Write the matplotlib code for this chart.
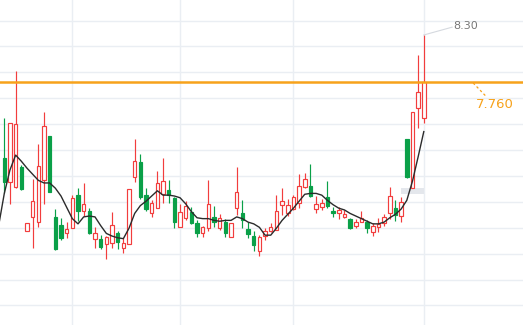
import numpy as np
import matplotlib.pyplot as plt
from matplotlib.patches import Rectangle

# Velas diarias (precios)
opens = [6.89, 6.61, 6.55, 6.78, 6.05, 6.21, 6.15, 6.63, 7.14, 6.21,
         6.12, 6.02, 6.08, 6.46, 6.28, 6.28, 5.96, 5.96, 5.90, 5.91,
         6.02, 5.85, 5.90, 6.67, 6.84, 6.46, 6.25, 6.31, 6.47, 6.52,
         6.43, 6.09, 6.20, 6.27, 6.14, 6.02, 6.08, 6.21, 6.08, 6.15,
         5.98, 6.31, 6.25, 6.07, 5.99, 5.82, 5.99, 6.05, 6.06, 6.35,
         6.25, 6.30, 6.37, 6.55, 6.56, 6.30, 6.32, 6.44, 6.28, 6.25,
         6.21, 6.19, 6.11, 6.15, 6.15, 6.04, 6.09, 6.14, 6.25, 6.31,
         6.22, 7.11, 6.54, 7.46, 7.35]
closes = [6.61, 7.29, 7.28, 6.53, 6.14, 6.39, 6.79, 7.25, 6.50, 5.84,
          5.97, 6.07, 6.43, 6.28, 6.36, 6.02, 6.02, 5.86, 5.98, 6.12,
          5.92, 5.91, 6.53, 6.85, 6.44, 6.30, 6.37, 6.60, 6.62, 6.46,
          6.15, 6.27, 6.34, 6.14, 6.02, 6.09, 6.36, 6.15, 6.20, 6.02,
          6.14, 6.50, 6.18, 6.01, 5.89, 5.98, 6.05, 6.09, 6.28, 6.39,
          6.35, 6.44, 6.56, 6.64, 6.45, 6.36, 6.37, 6.34, 6.25, 6.29,
          6.24, 6.08, 6.15, 6.20, 6.08, 6.11, 6.13, 6.21, 6.45, 6.23,
          6.38, 6.67, 7.42, 7.65, 7.76]
highs = [7.35, 7.29, 7.89, 6.81, 6.14, 6.65, 7.05, 7.42, 7.14, 6.30,
         6.20, 6.15, 6.46, 6.54, 6.60, 6.31, 6.09, 6.00, 5.99, 6.27,
         6.05, 5.97, 6.53, 7.10, 6.93, 6.54, 6.40, 6.74, 6.89, 6.63,
         6.44, 6.36, 6.39, 6.32, 6.17, 6.10, 6.63, 6.34, 6.24, 6.19,
         6.14, 6.78, 6.40, 6.15, 6.05, 6.00, 6.08, 6.14, 6.46, 6.54,
         6.42, 6.46, 6.70, 6.71, 6.82, 6.45, 6.42, 6.62, 6.32, 6.32,
         6.29, 6.20, 6.19, 6.28, 6.17, 6.14, 6.20, 6.24, 6.55, 6.40,
         6.44, 7.11, 7.42, 8.07, 8.30]
lows = [6.49, 6.36, 6.54, 6.52, 6.05, 5.85, 6.09, 6.36, 6.50, 5.83,
        5.94, 5.97, 6.08, 6.16, 6.22, 6.01, 5.85, 5.84, 5.73, 5.85,
        5.84, 5.79, 5.90, 6.61, 6.42, 6.28, 6.21, 6.31, 6.37, 6.37,
        6.08, 6.09, 6.17, 6.13, 5.98, 5.98, 6.05, 6.09, 6.06, 5.98,
        5.98, 6.23, 6.08, 5.97, 5.82, 5.76, 5.95, 6.04, 6.06, 6.23,
        6.22, 6.29, 6.31, 6.54, 6.44, 6.25, 6.29, 6.31, 6.21, 6.19,
        6.20, 6.07, 6.08, 6.15, 6.02, 5.99, 6.04, 6.10, 6.19, 6.16,
        6.15, 6.66, 6.54, 7.23, 7.29]

# Media movil (empieza una vela antes de la primera)
ma = [6.11, 6.48, 6.75, 6.92, 6.85, 6.77, 6.70, 6.63, 6.60, 6.60, 6.54,
      6.45, 6.32, 6.19, 6.13, 6.21, 6.22, 6.21, 6.11, 6.02, 5.99,
      5.97, 5.96, 6.08, 6.25, 6.34, 6.39, 6.45, 6.51, 6.46, 6.46,
      6.45, 6.43, 6.36, 6.27, 6.20, 6.19, 6.19, 6.17, 6.16, 6.17,
      6.17, 6.21, 6.19, 6.15, 6.13, 6.09, 6.00, 6.00, 6.08, 6.17,
      6.24, 6.31, 6.39, 6.47, 6.48, 6.48, 6.46, 6.40, 6.35, 6.31,
      6.29, 6.25, 6.22, 6.19, 6.16, 6.13, 6.13, 6.15, 6.20, 6.24,
      6.30, 6.40, 6.62, 6.90, 7.19]

ROJO = '#f23d3d'
VERDE = '#0aa048'
NARANJA = '#f7a21b'

fig = plt.figure(figsize=(5.23, 3.25), dpi=100)
ax = fig.add_axes([0, 0, 1, 1])
ax.set_xlim(-0.76, 91.5)
ax.set_ylim(4.968, 8.702)

# Cuadricula
for yv in 8.466 - 0.2976 * np.arange(12):
    ax.axhline(yv, color='#eaeef3', lw=1, zorder=0)
for xv in [12, 31, 51, 74]:
    ax.axvline(xv, color='#eaeef3', lw=1, zorder=0)

# Zona gris
ax.add_patch(Rectangle((69.95, 6.473), 4.1, 0.069, facecolor='#e4e7ec',
                       edgecolor='none', zorder=1))

x = np.arange(len(opens))
w = 0.62
for i in x:
    o, c, h, l = opens[i], closes[i], highs[i], lows[i]
    sube = c >= o
    col = ROJO if sube else VERDE
    ax.vlines(i, l, h, color=col, lw=0.85, zorder=2)
    alto = max(abs(c - o), 0.02)
    ax.add_patch(Rectangle((i - w / 2, min(o, c)), w, alto,
                           facecolor='white' if sube else col,
                           edgecolor=col, lw=0.85, zorder=3))

ax.plot(np.arange(-1, len(ma) - 1), ma, color='#2b2b2b', lw=1.0, zorder=4)

# Precio actual
ax.axhline(closes[-1], color=NARANJA, lw=1.8, zorder=5)
ax.plot([82.7, 85.1], [7.749, 7.587], color=NARANJA, lw=0.9, ls=(0, (2, 2)), zorder=5)
ax.text(86.6, 7.50, f"{closes[-1]:.3f}", color=NARANJA, fontsize=9.5,
        ha='center', va='center', zorder=6)

# Maximo
ax.plot([74, 79.0], [highs[-1], 8.39], color='#d5d9df', lw=0.8, zorder=5)
ax.text(79.2, 8.40, f"{highs[-1]:.2f}", color='#777777', fontsize=8,
        ha='left', va='center', zorder=6)

ax.set_xticks([])
ax.set_yticks([])
for s in ax.spines.values():
    s.set_visible(False)

fig.savefig('out.png', dpi=100)
